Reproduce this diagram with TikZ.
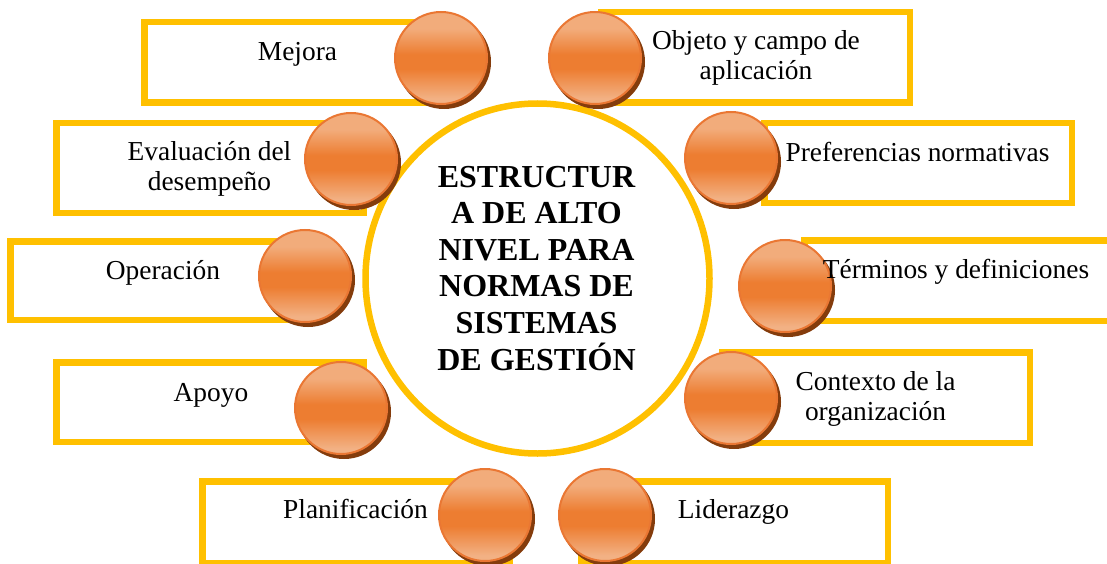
\documentclass[tikz,border=0pt]{standalone}
\usepackage{fontspec}
\setmainfont{Liberation Serif}
\usetikzlibrary{shapes.geometric,shadows}
\definecolor{ylw}{HTML}{FFC000}
\definecolor{orng}{HTML}{ED7D31}
\definecolor{ptop}{HTML}{F2AC7B}
\definecolor{pbot}{HTML}{F2B184}
\definecolor{rimc}{HTML}{EA7733}
\definecolor{shd}{HTML}{843C0C}
\pgfdeclareverticalshading{ballshade}{100bp}{color(0bp)=(pbot); color(28bp)=(pbot); color(44bp)=(orng); color(52bp)=(orng); color(66bp)=(ptop); color(100bp)=(ptop)}
\begin{document}
\begin{tikzpicture}[x=1pt,y=-1pt,
  ybox/.style={draw=ylw, line width=6.5pt, rectangle, inner sep=0pt},
  ball/.style={circle, minimum size=92pt, inner sep=0pt, shading=ballshade, draw=rimc, line width=2pt,
    general shadow={shadow xshift=3pt, shadow yshift=-4pt, fill=shd, draw=shd, line width=2pt}},
  hub/.style={ellipse, draw=ylw, line width=6.5pt, inner sep=0pt},
  lbl/.style={anchor=base, align=center, font=\fontsize{27.4}{30}\selectfont, inner sep=0pt},
  hubtext/.style={anchor=base, align=center, font=\fontsize{32}{36.6}\selectfont\bfseries, inner sep=0pt}]
\useasboundingbox (0,0) rectangle (1107,564);
% boxes
\node[ybox, minimum width=293.5pt, minimum height=80.5pt] (bxMej) at (291,62.5) {};
\node[ybox, minimum width=308.5pt, minimum height=90.5pt] (bxObj) at (755.5,57.5) {};
\node[ybox, minimum width=307.5pt, minimum height=89.5pt] (bxEva) at (210,168) {};
\node[ybox, minimum width=307.5pt, minimum height=79.5pt] (bxPre) at (918,163) {};
\node[ybox, minimum width=286.5pt, minimum height=78.5pt] (bxOpe) at (153.5,280.5) {};
\node[ybox, minimum width=322.5pt, minimum height=80.5pt] (bxTer) at (965.5,280.5) {};
\node[ybox, minimum width=307.5pt, minimum height=79.5pt] (bxApo) at (210,402) {};
\node[ybox, minimum width=307.5pt, minimum height=90.5pt] (bxCon) at (876,397.5) {};
\node[ybox, minimum width=307.5pt, minimum height=81.5pt] (bxPla) at (356,522) {};
\node[ybox, minimum width=306.5pt, minimum height=81.5pt] (bxLid) at (734.5,522) {};
% central circle
\node[hub, minimum width=344pt, minimum height=350pt] (hub) at (537.5,278.5) {};
% balls
\node[ball] (bMej) at (441,58) {};
\node[ball] (bObj) at (595,58) {};
\node[ball] (bEva) at (351,159) {};
\node[ball] (bPre) at (731,158) {};
\node[ball] (bOpe) at (305,276) {};
\node[ball] (bTer) at (785,286) {};
\node[ball] (bApo) at (341,408) {};
\node[ball] (bCon) at (731,398) {};
\node[ball] (bPla) at (485,515) {};
\node[ball] (bLid) at (605,515) {};
% labels (base = baseline of last line)
\node[lbl] (tMej) at (297.5,61) {Mejora};
\node[lbl] (tObj) at (756,80) {Objeto y campo de\\aplicación};
\node[lbl] (tEva) at (209.5,190) {Evaluación del\\desempeño};
\node[lbl] (tPre) at (917.5,161) {Preferencias normativas};
\node[lbl] (tOpe) at (163,279) {Operación};
\node[lbl] (tTer) at (956,278) {Términos y definiciones};
\node[lbl] (tApo) at (211,401) {Apoyo};
\node[lbl] (tCon) at (875.5,420) {Contexto de la\\organización};
\node[lbl] (tPla) at (355.5,518) {Planificación};
\node[lbl] (tLid) at (733.5,518) {Liderazgo};
\node[hubtext] (tHub) at (536.5,370) {ESTRUCTUR\\A DE ALTO\\NIVEL PARA\\NORMAS DE\\SISTEMAS\\DE GESTIÓN};
\end{tikzpicture}
\end{document}
